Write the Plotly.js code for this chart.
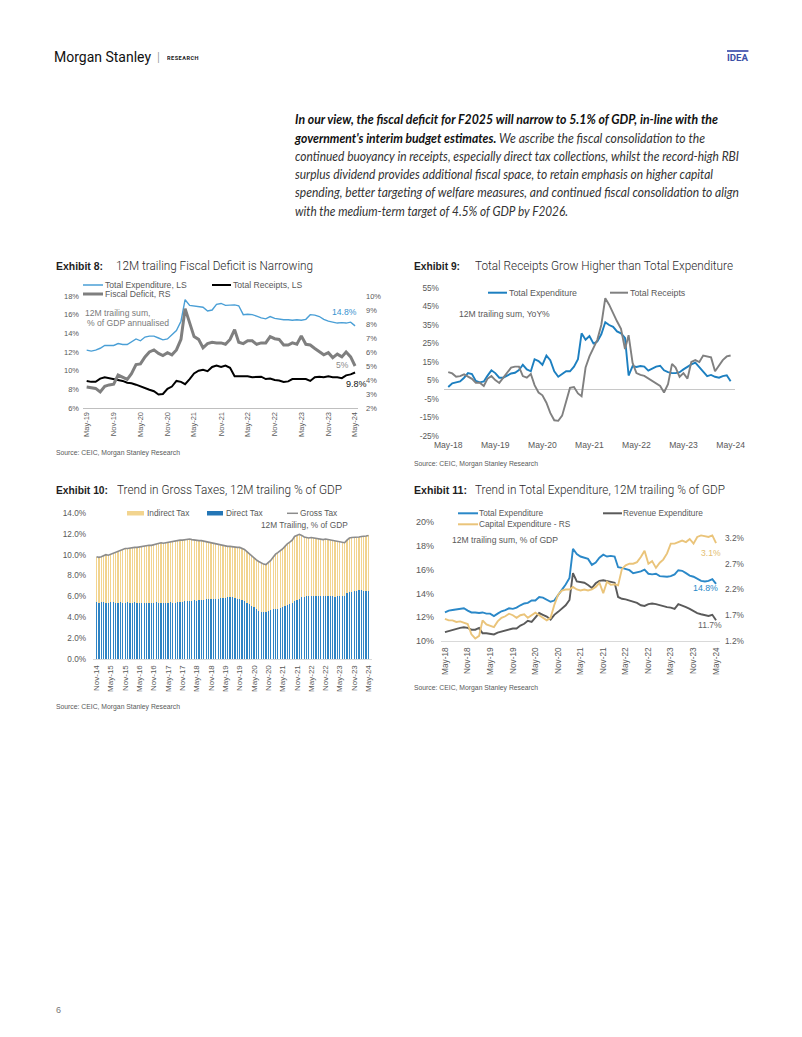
<!DOCTYPE html>
<html lang="en"><head><meta charset="utf-8"><title>Morgan Stanley Research - India fiscal charts</title>
<script src="https://cdn.plot.ly/plotly-3.0.1.min.js"></script>
<style>
html,body{margin:0;padding:0;background:#fff}
body{position:relative;width:802px;height:1037px;overflow:hidden;font-family:"Liberation Sans",Arial,sans-serif}
.a{position:absolute;white-space:nowrap;transform-origin:0 50%}
.brand{left:54px;top:47px;font-family:Roboto,sans-serif;font-size:15.5px;line-height:20px;color:#111}
.sep{left:157px;top:49px;font-family:Roboto,sans-serif;font-weight:300;font-size:13px;line-height:16px;color:#888}
.res{left:167px;top:54px;font-family:Roboto,sans-serif;font-weight:700;font-size:6px;line-height:7px;letter-spacing:.5px;color:#222}
.idea{left:727px;top:50px;font-family:Roboto,sans-serif;font-weight:700;font-size:9px;line-height:10px;color:#3d4fa6;border-top:2px solid #5b69b8;padding-top:1px}
.para{left:295px;font-family:Lato,"Open Sans",sans-serif;font-style:italic;font-size:12.5px;line-height:18px;color:#333}
.para b{color:#111;font-weight:700}
.exl{font-family:"Liberation Sans",Arial,sans-serif;font-weight:700;font-size:11px;line-height:16px;color:#1e1e1e}
.ext{font-family:Roboto,sans-serif;font-weight:300;font-size:12px;line-height:16px;color:#2b2b2b}
.src{font-family:"Liberation Sans",Arial,sans-serif;font-size:7.5px;line-height:10px;color:#595959}
.pg{left:56px;top:1004px;font-family:"Liberation Sans",Arial,sans-serif;font-size:9px;line-height:12px;color:#777}
.chart{position:absolute}
</style></head><body>

<div class="a brand" data-w="97">Morgan Stanley</div>
<div class="a sep">|</div>
<div class="a res" data-w="32">RESEARCH</div>
<div class="a idea" data-w="21">IDEA</div>

<div class="a para" style="top:111px" data-w="423"><b>In our view, the fiscal deficit for F2025 will narrow to 5.1% of GDP, in-line with the</b></div>
<div class="a para" style="top:130px" data-w="410"><b>government's interim budget estimates.</b> We ascribe the fiscal consolidation to the</div>
<div class="a para" style="top:148px" data-w="444">continued buoyancy in receipts, especially direct tax collections, whilst the record-high RBI</div>
<div class="a para" style="top:166px" data-w="418">surplus dividend provides additional fiscal space, to retain emphasis on higher capital</div>
<div class="a para" style="top:184px" data-w="444">spending, better targeting of welfare measures, and continued fiscal consolidation to align</div>
<div class="a para" style="top:203px" data-w="273">with the medium-term target of 4.5% of GDP by F2026.</div>

<div class="a exl" style="left:56px;top:258px" data-w="47">Exhibit 8:</div>
<div class="a ext" style="left:116px;top:258px" data-w="197">12M trailing Fiscal Deficit is Narrowing</div>
<div class="a exl" style="left:414px;top:258px" data-w="46">Exhibit 9:</div>
<div class="a ext" style="left:475px;top:258px" data-w="258">Total Receipts Grow Higher than Total Expenditure</div>
<div class="a exl" style="left:56px;top:482px" data-w="52">Exhibit 10:</div>
<div class="a ext" style="left:117px;top:482px" data-w="225">Trend in Gross Taxes, 12M trailing % of GDP</div>
<div class="a exl" style="left:414px;top:482px" data-w="53">Exhibit 11:</div>
<div class="a ext" style="left:475px;top:482px" data-w="250">Trend in Total Expenditure, 12M trailing % of GDP</div>

<div id="ex8" class="chart"></div>
<div id="ex9" class="chart"></div>
<div id="ex10" class="chart"></div>
<div id="ex11" class="chart"></div>

<div class="a src" style="left:56px;top:448px" data-w="124">Source: CEIC, Morgan Stanley Research</div>
<div class="a src" style="left:414px;top:459px" data-w="124">Source: CEIC, Morgan Stanley Research</div>
<div class="a src" style="left:56px;top:702px" data-w="124">Source: CEIC, Morgan Stanley Research</div>
<div class="a src" style="left:414px;top:683px" data-w="124">Source: CEIC, Morgan Stanley Research</div>

<div class="a pg">6</div>

<script>
// ---------- DATA ----------
function months(y, m, n){const o=[];for(let i=0;i<n;i++){const t=m-1+i;o.push((y+Math.floor(t/12))+'-'+String(t%12+1).padStart(2,'0')+'-01');}return o;}

// Exhibit 8: May-19 .. May-24, 12M trailing % of GDP
const ex8Months = months(2019,5,61);
const ex8Expenditure = [12.2,12.1,12.2,12.4,12.7,12.7,12.7,12.9,12.8,12.8, 13.1,13.4,13.2,13.6,13.7,13.7,13.5,13.3,13.4,13.8, 14.3,15.3,17.6,17.0,16.95,16.9,16.8,16.4,16.5,17.1, 17.2,17.0,17.05,17.05,16.95,16.0,16.05,16.0,15.85,15.65, 15.55,15.8,15.6,15.5,15.45,15.45,15.4,15.45,15.4,15.5, 16.0,15.95,15.8,15.5,15.3,15.2,15.1,15.15,15.1,15.2, 14.8];
const ex8Receipts = [8.9,8.8,8.8,9.15,9.3,9.2,9.1,9.0,8.9,8.7, 8.65,8.5,8.3,8.1,7.95,7.8,7.45,7.5,8.05,8.3, 8.9,8.8,8.55,9.1,9.7,10.0,10.1,9.95,10.4,10.55, 10.4,10.55,10.3,9.4,9.4,9.45,9.4,9.3,9.3,9.35, 9.1,9.15,9.0,8.95,8.8,8.85,9.1,9.1,9.05,9.1, 8.9,9.3,9.35,9.3,9.4,9.3,9.3,9.2,9.5,9.6, 9.8];
const ex8Deficit = [3.5,3.45,3.4,3.15,3.55,3.65,3.7,4.35,4.2,4.05, 4.45,5.1,5.15,5.65,6.0,6.15,5.9,5.75,5.95,5.8, 6.15,6.9,9.1,8.0,7.1,6.9,6.3,6.6,6.7,6.65, 6.65,6.55,6.9,7.6,6.7,6.6,6.8,6.8,6.55,6.65, 6.65,7.1,6.95,6.9,6.5,6.5,6.65,6.55,7.15,6.55, 6.5,6.25,6.0,5.8,5.95,5.6,5.85,5.65,6.0,5.65, 5.0];
const ex8TickVals = ['2019-05-01','2019-11-01','2020-05-01','2020-11-01','2021-05-01','2021-11-01','2022-05-01','2022-11-01','2023-05-01','2023-11-01','2024-05-01'];
const ex8TickText = ['May-19','Nov-19','May-20','Nov-20','May-21','Nov-21','May-22','Nov-22','May-23','Nov-23','May-24'];
const ex8LeftTicks = [6,8,10,12,14,16,18];
const ex8LeftText = ['6%','8%','10%','12%','14%','16%','18%'];
const ex8RightTicks = [2,3,4,5,6,7,8,9,10];
const ex8RightText = ['2%','3%','4%','5%','6%','7%','8%','9%','10%'];

// Exhibit 9: May-18 .. May-24, 12M trailing sum YoY %
const ex9Months = months(2018,5,73);
const ex9Expenditure = [1.5,3.5,4.0,4.5,6.5,9.0,8.5,4.8,4.0,4.5, 7.5,10.5,9.0,6.5,6.5,7.8,8.8,9.2,10.6,13.5, 11.0,10.0,16.5,15.5,13.5,18.5,16.0,10.0,7.0,8.5, 10.0,10.0,12.5,16.5,30.5,27.0,29.0,25.0,26.0,30.0, 36.5,35.0,34.0,31.5,30.5,28.0,7.7,12.8,12.3,12.8, 12.5,10.3,11.5,12.5,13.0,10.5,9.5,9.0,9.0,9.5, 11.0,12.5,13.7,14.6,12.0,9.5,7.4,8.0,7.0,6.5, 7.4,7.8,4.6];
const ex9Receipts = [9.5,8.8,7.0,7.4,8.3,7.0,5.9,3.8,3.8,2.0, 5.9,7.4,5.2,3.7,6.5,8.8,12.0,12.5,12.5,7.4, 6.5,8.5,2.5,-1.5,-3.0,-7.0,-12.5,-16.5,-16.8,-14.0, -6.5,1.0,1.5,-2.0,-3.5,12.0,18.0,23.0,27.0,35.0, 49.5,46.0,41.0,37.0,33.0,22.0,29.5,14.5,9.0,8.0, 7.5,6.0,4.5,3.5,2.0,-1.5,3.0,14.0,12.0,7.0, 9.0,6.0,15.0,16.0,15.0,18.5,18.0,17.5,10.0,13.0, 16.0,18.0,18.5];
const ex9TickVals = ['2018-05-01','2019-05-01','2020-05-01','2021-05-01','2022-05-01','2023-05-01','2024-05-01'];
const ex9TickText = ['May-18','May-19','May-20','May-21','May-22','May-23','May-24'];
const ex9YTicks = [-25,-15,-5,5,15,25,35,45,55];
const ex9YText = ['-25%','-15%','-5%','5%','15%','25%','35%','45%','55%'];

// Exhibit 10: Nov-14 .. May-24, 12M trailing % of GDP
const ex10Months = months(2014,11,115);
const ex10Direct = [5.45,5.4,5.45,5.45,5.4,5.4,5.45,5.45,5.4,5.4,5.45,5.4, 5.4,5.45,5.4,5.4,5.45,5.4,5.4,5.35,5.4,5.4,5.35,5.4, 5.4,5.45,5.4,5.4,5.35,5.4,5.4,5.45,5.4,5.4,5.45,5.5, 5.5,5.55,5.6,5.6,5.6,5.65,5.6,5.65,5.7,5.7,5.75,5.75, 5.75,5.8,5.8,5.8,5.85,5.85,5.85,5.9,5.9,5.9,5.85,5.8, 5.75,5.7,5.55,5.4,5.25,5.1,5.0,4.8,4.65,4.55,4.5,4.5, 4.6,4.7,4.75,4.75,4.8,4.9,5.0,5.1,5.2,5.3,5.4,5.55, 5.7,5.8,5.9,5.95,6.0,6.0,6.05,6.05,6.05,6.0,6.0,6.0, 6.0,6.0,6.0,6.0,5.95,6.0,6.05,6.0,6.0,6.3,6.4,6.45, 6.5,6.55,6.6,6.6,6.55,6.5,6.5];
const ex10Indirect = [4.35,4.35,4.35,4.5,4.6,4.55,4.6,4.7,4.85,4.95,5.0,5.15, 5.2,5.15,5.25,5.25,5.25,5.3,5.35,5.45,5.4,5.45,5.55,5.5, 5.55,5.55,5.7,5.75,5.75,5.75,5.8,5.8,5.9,5.9,5.9,5.9, 5.9,5.9,5.9,5.9,5.85,5.75,5.8,5.7,5.65,5.6,5.5,5.45, 5.4,5.3,5.25,5.15,5.05,5.0,5.0,4.9,4.9,4.85,4.9,4.9, 4.95,4.9,4.95,4.9,4.85,4.8,4.65,4.7,4.7,4.65,4.6,4.55, 4.65,4.75,5.0,5.3,5.4,5.45,5.55,5.7,5.85,5.9,6.0,6.2, 6.15,6.15,5.95,5.75,5.65,5.6,5.6,5.55,5.55,5.5,5.5,5.45, 5.5,5.45,5.4,5.35,5.35,5.25,5.15,5.2,5.15,5.1,5.2,5.2, 5.15,5.1,5.1,5.15,5.2,5.3,5.35];
const ex10Gross = [9.8,9.75,9.8,9.95,10.0,9.95,10.05,10.15,10.25,10.35,10.45,10.55, 10.6,10.6,10.65,10.65,10.7,10.7,10.75,10.8,10.8,10.85,10.9,10.9, 10.95,11.0,11.1,11.15,11.1,11.15,11.2,11.25,11.3,11.3,11.35,11.4, 11.4,11.45,11.5,11.5,11.45,11.4,11.4,11.35,11.35,11.3,11.25,11.2, 11.15,11.1,11.05,10.95,10.9,10.85,10.85,10.8,10.8,10.75,10.75,10.7, 10.7,10.6,10.5,10.3,10.1,9.9,9.65,9.5,9.35,9.2,9.1,9.05, 9.25,9.45,9.75,10.05,10.2,10.35,10.55,10.8,11.05,11.2,11.4,11.75, 11.85,11.95,11.85,11.7,11.65,11.6,11.65,11.6,11.6,11.5,11.5,11.45, 11.5,11.45,11.4,11.35,11.3,11.25,11.2,11.2,11.15,11.4,11.6,11.65, 11.65,11.65,11.7,11.75,11.75,11.8,11.85];
const ex10TickVals = ['2014-11-01','2015-05-01','2015-11-01','2016-05-01','2016-11-01','2017-05-01','2017-11-01','2018-05-01','2018-11-01','2019-05-01','2019-11-01','2020-05-01','2020-11-01','2021-05-01','2021-11-01','2022-05-01','2022-11-01','2023-05-01','2023-11-01','2024-05-01'];
const ex10TickText = ['Nov-14','May-15','Nov-15','May-16','Nov-16','May-17','Nov-17','May-18','Nov-18','May-19','Nov-19','May-20','Nov-20','May-21','Nov-21','May-22','Nov-22','May-23','Nov-23','May-24'];
const ex10YTicks = [0,2,4,6,8,10,12,14];
const ex10YText = ['0.0%','2.0%','4.0%','6.0%','8.0%','10.0%','12.0%','14.0%'];

// Exhibit 11: May-18 .. May-24, 12M trailing sum % of GDP
const ex11Months = months(2018,5,73);
const ex11Total = [12.4,12.55,12.6,12.65,12.75,12.75,12.55,12.4,12.4,12.35, 12.4,12.3,12.3,12.1,12.3,12.5,12.6,12.75,12.7,12.8, 13.0,13.15,13.2,13.4,13.4,13.7,13.65,13.5,13.3,13.4, 13.9,14.3,14.75,15.3,17.75,17.3,17.1,17.0,16.9,16.4, 16.6,17.0,17.25,17.1,17.15,17.1,16.2,16.15,16.05,15.95, 15.7,15.75,15.85,16.0,15.65,15.6,15.65,15.45,15.4,15.4, 15.45,15.6,15.95,15.9,15.7,15.5,15.4,15.2,15.05,15.0, 15.05,15.2,14.8];
const ex11Revenue = [10.75,10.85,10.9,11.0,11.1,11.15,11.1,10.95,10.95,11.1, 10.65,10.65,10.6,10.55,10.7,10.8,10.9,10.95,11.05,11.05, 11.3,11.45,11.7,11.6,12.0,12.35,12.2,12.05,11.8,12.2, 12.45,12.75,13.0,13.45,15.7,15.0,14.95,14.9,14.7,14.45, 14.85,15.05,15.1,15.05,14.95,14.9,13.7,13.55,13.5,13.4, 13.3,13.2,13.0,12.95,13.1,13.15,13.1,13.0,12.9,12.85, 12.8,12.7,13.1,13.0,12.85,12.7,12.5,12.35,12.25,12.15, 12.1,12.2,11.75];
const ex11Capex = [1.63,1.6,1.6,1.57,1.58,1.56,1.53,1.33,1.25,1.3, 1.6,1.52,1.5,1.47,1.58,1.65,1.68,1.73,1.7,1.65, 1.7,1.72,1.65,1.7,1.75,1.7,1.65,1.6,1.65,1.9, 2.1,2.18,2.2,2.2,2.25,2.2,2.18,2.2,2.18,2.2, 2.25,2.33,2.13,2.35,2.29,2.3,2.28,2.6,2.67,2.7, 2.7,2.73,2.83,2.95,2.7,2.75,2.62,2.72,2.78,2.9, 3.09,3.09,3.12,3.15,3.12,3.18,3.09,3.22,3.25,3.23, 3.22,3.25,3.1];
const ex11TickVals = ['2018-05-01','2018-11-01','2019-05-01','2019-11-01','2020-05-01','2020-11-01','2021-05-01','2021-11-01','2022-05-01','2022-11-01','2023-05-01','2023-11-01','2024-05-01'];
const ex11TickText = ['May-18','Nov-18','May-19','Nov-19','May-20','Nov-20','May-21','Nov-21','May-22','Nov-22','May-23','Nov-23','May-24'];
const ex11LeftTicks = [10,12,14,16,18,20];
const ex11LeftText = ['10%','12%','14%','16%','18%','20%'];
const ex11RightTicks = [1.2,1.7,2.2,2.7,3.2];
const ex11RightText = ['1.2%','1.7%','2.2%','2.7%','3.2%'];

// ---------- HELPERS ----------
const FONT = '"Liberation Sans", Arial, sans-serif';
const TC = '#595959';
const CFG = {staticPlot:true, displayModeBar:false, responsive:false};

function place(id, box){const d=document.getElementById(id);d.style.left=box.left+'px';d.style.top=box.top+'px';d.style.width=box.width+'px';d.style.height=box.height+'px';}
function rectOf(box,m){return {l:box.left+m.l,t:box.top+m.t,w:box.width-m.l-m.r,h:box.height-m.t-m.b};}
function P(r,X,Y){return [(X-r.l)/r.w,(r.t+r.h-Y)/r.h];}
function txt(r,X,Y,text,size,color,extra){const p=P(r,X,Y);return Object.assign({xref:'paper',yref:'paper',x:p[0],y:p[1],xanchor:'left',yanchor:'middle',showarrow:false,borderpad:0,text:text,font:{family:FONT,size:size,color:color}},extra||{});}
function lineS(r,X1,X2,Y,color,w){const a=P(r,X1,Y),b=P(r,X2,Y);return {type:'line',xref:'paper',yref:'paper',x0:a[0],y0:a[1],x1:b[0],y1:b[1],line:{color:color,width:w}};}
function rectS(r,X1,Y1,X2,Y2,color){const a=P(r,X1,Y1),b=P(r,X2,Y2);return {type:'rect',xref:'paper',yref:'paper',x0:a[0],y0:a[1],x1:b[0],y1:b[1],fillcolor:color,line:{width:0}};}
function baseAxis(extra){return Object.assign({showgrid:false,zeroline:false,ticks:'',showline:false,tickfont:{family:FONT,color:TC}},extra);}

// ---------- EXHIBIT 8 ----------
(function(){
  const box={left:50,top:280,width:340,height:170}, m={l:33,r:32,t:16,b:42,pad:0};
  place('ex8',box); const r=rectOf(box,m);
  const cB='#4A9FD6', cK='#000000', cG='#7F7F7F';
  Plotly.newPlot('ex8',[
    {x:ex8Months,y:ex8Expenditure,type:'scatter',mode:'lines',name:'Total Expenditure, LS',line:{color:cB,width:1.4}},
    {x:ex8Months,y:ex8Receipts,type:'scatter',mode:'lines',name:'Total Receipts, LS',line:{color:cK,width:2}},
    {x:ex8Months,y:ex8Deficit,type:'scatter',mode:'lines',name:'Fiscal Deficit, RS',yaxis:'y2',line:{color:cG,width:3}}
  ],{
    width:box.width,height:box.height,margin:m,showlegend:false,
    paper_bgcolor:'rgba(0,0,0,0)',plot_bgcolor:'rgba(0,0,0,0)',font:{family:FONT,size:7.5,color:TC},
    xaxis:baseAxis({type:'date',range:['2019-04-06','2024-05-21'],tickmode:'array',tickvals:ex8TickVals,ticktext:ex8TickText,tickangle:-90,showline:true,linecolor:'#BFBFBF',linewidth:1,tickfont:{family:FONT,size:7.5,color:TC}}),
    yaxis:baseAxis({range:[6,18],tickmode:'array',tickvals:ex8LeftTicks,ticktext:ex8LeftText,ticklabelstandoff:3,tickfont:{family:FONT,size:7.5,color:TC}}),
    yaxis2:baseAxis({overlaying:'y',side:'right',range:[2,10],tickmode:'array',tickvals:ex8RightTicks,ticktext:ex8RightText,ticklabelstandoff:7,tickfont:{family:FONT,size:7.5,color:TC}}),
    shapes:[lineS(r,83,103,285,cB,1.5),lineS(r,212,231,285,cK,2),lineS(r,83,103,294,cG,3)],
    annotations:[
      txt(r,104,285,'Total Expenditure, LS',8.6,TC),
      txt(r,232,285,'Total Receipts, LS',8.6,TC),
      txt(r,104,294,'Fiscal Deficit, RS',8.6,TC),
      txt(r,84,313,'12M trailing sum,',8.6,'#7a7a7a'),
      txt(r,86,323,'% of GDP annualised',8.6,'#7a7a7a'),
      txt(r,331,312,'14.8%',8.6,'#3A93CF'),
      txt(r,335,365,'5%',8.6,'#8c8c8c'),
      txt(r,345,384,'9.8%',9,'#111111')
    ]
  },CFG);
})();

// ---------- EXHIBIT 9 ----------
(function(){
  const box={left:400,top:270,width:360,height:190}, m={l:44,r:25,t:18,b:24,pad:0};
  place('ex9',box); const r=rectOf(box,m);
  const cB='#1C7FC0', cG='#808080';
  Plotly.newPlot('ex9',[
    {x:ex9Months,y:ex9Expenditure,type:'scatter',mode:'lines',name:'Total Expenditure',line:{color:cB,width:1.9}},
    {x:ex9Months,y:ex9Receipts,type:'scatter',mode:'lines',name:'Total Receipts',line:{color:cG,width:1.9}}
  ],{
    width:box.width,height:box.height,margin:m,showlegend:false,
    paper_bgcolor:'rgba(0,0,0,0)',plot_bgcolor:'rgba(0,0,0,0)',font:{family:FONT,size:8.5,color:TC},
    xaxis:baseAxis({type:'date',range:['2018-03-29','2024-06-04'],tickmode:'array',tickvals:ex9TickVals,ticktext:ex9TickText,tickangle:0,ticklabelstandoff:2,tickfont:{family:FONT,size:8.6,color:TC}}),
    yaxis:baseAxis({range:[-25,55],tickmode:'array',tickvals:ex9YTicks,ticktext:ex9YText,zeroline:true,zerolinecolor:'#C8C8C8',zerolinewidth:1,ticklabelstandoff:4,tickfont:{family:FONT,size:8.3,color:TC}}),
    shapes:[lineS(r,488,507,292.7,cB,2),lineS(r,610,628,292.7,cG,2)],
    annotations:[
      txt(r,508,292.7,'Total Expenditure',8.8,TC),
      txt(r,629,292.7,'Total Receipts',8.8,TC),
      txt(r,458,314,'12M trailing sum, YoY%',8.6,TC)
    ]
  },CFG);
})();

// ---------- EXHIBIT 10 ----------
(function(){
  const box={left:40,top:495,width:345,height:205}, m={l:53,r:13,t:18,b:41,pad:0};
  place('ex10',box); const r=rectOf(box,m);
  const cY='#F2D48F', cB='#2F84C4', cG='#8C8C8C';
  Plotly.newPlot('ex10',[
    {x:ex10Months,y:ex10Direct,type:'bar',name:'Direct Tax',marker:{color:cB,line:{width:0}}},
    {x:ex10Months,y:ex10Indirect,type:'bar',name:'Indirect Tax',marker:{color:cY,line:{width:0}}},
    {x:ex10Months,y:ex10Gross,type:'scatter',mode:'lines',name:'Gross Tax',line:{color:cG,width:1.6}}
  ],{
    width:box.width,height:box.height,margin:m,showlegend:false,barmode:'stack',bargap:0.42,
    paper_bgcolor:'rgba(0,0,0,0)',plot_bgcolor:'rgba(0,0,0,0)',font:{family:FONT,size:8.2,color:TC},
    xaxis:baseAxis({type:'date',range:['2014-09-17','2024-06-15'],tickmode:'array',tickvals:ex10TickVals,ticktext:ex10TickText,tickangle:-90,showline:true,linecolor:'#D9D9D9',linewidth:1,ticklabelstandoff:2,tickfont:{family:FONT,size:8,color:TC}}),
    yaxis:baseAxis({range:[0,14],tickmode:'array',tickvals:ex10YTicks,ticktext:ex10YText,ticklabelstandoff:6,tickfont:{family:FONT,size:8.2,color:TC}}),
    shapes:[rectS(r,127,511,144,515.5,cY),rectS(r,207,511,223,515.5,'#2476B6'),lineS(r,287,298,513.3,cG,1.5)],
    annotations:[
      txt(r,146,513.3,'Indirect Tax',8.3,TC),
      txt(r,225,513.3,'Direct Tax',8.3,TC),
      txt(r,299,513.3,'Gross Tax',8.3,TC),
      txt(r,260,525,'12M Trailing, % of GDP',8.3,TC)
    ]
  },CFG);
})();

// ---------- EXHIBIT 11 ----------
(function(){
  const box={left:400,top:495,width:360,height:195}, m={l:41,r:40,t:27,b:49,pad:0};
  place('ex11',box); const r=rectOf(box,m);
  const cB='#2A88C8', cG='#5A5A5A', cY='#EAC47A';
  Plotly.newPlot('ex11',[
    {x:ex11Months,y:ex11Total,type:'scatter',mode:'lines',name:'Total Expenditure',line:{color:cB,width:1.9}},
    {x:ex11Months,y:ex11Revenue,type:'scatter',mode:'lines',name:'Revenue Expenditure',line:{color:cG,width:1.9}},
    {x:ex11Months,y:ex11Capex,type:'scatter',mode:'lines',name:'Capital Expenditure - RS',yaxis:'y2',line:{color:cY,width:1.9}}
  ],{
    width:box.width,height:box.height,margin:m,showlegend:false,
    paper_bgcolor:'rgba(0,0,0,0)',plot_bgcolor:'rgba(0,0,0,0)',font:{family:FONT,size:8.5,color:TC},
    xaxis:baseAxis({type:'date',range:['2018-03-30','2024-06-02'],tickmode:'array',tickvals:ex11TickVals,ticktext:ex11TickText,tickangle:-90,showline:true,linecolor:'#D9D9D9',linewidth:1,ticklabelstandoff:2,tickfont:{family:FONT,size:8.3,color:TC}}),
    yaxis:baseAxis({range:[10,20],tickmode:'array',tickvals:ex11LeftTicks,ticktext:ex11LeftText,ticklabelstandoff:6,tickfont:{family:FONT,size:9,color:TC}}),
    yaxis2:baseAxis({overlaying:'y',side:'right',range:[1.2,3.51],tickmode:'array',tickvals:ex11RightTicks,ticktext:ex11RightText,ticklabelstandoff:4,tickfont:{family:FONT,size:8.3,color:TC}}),
    shapes:[lineS(r,458,478,513.3,cB,2),lineS(r,603,622,513.3,cG,2),lineS(r,458,478,524.3,cY,2)],
    annotations:[
      txt(r,478,513.3,'Total Expenditure',8.3,TC),
      txt(r,622,513.3,'Revenue Expenditure',8.3,TC),
      txt(r,478,524.3,'Capital Expenditure - RS',8.3,TC),
      txt(r,451,540,'12M trailing sum, % of GDP',8.6,TC),
      txt(r,700,553,'3.1%',8.6,'#E3BE72'),
      txt(r,692,588,'14.8%',8.8,'#2A88C8'),
      txt(r,697,625,'11.7%',8.6,'#666666')
    ]
  },CFG);
})();

// ---------- fit HTML text runs to measured widths ----------
function fitAll(){document.querySelectorAll('[data-w]').forEach(function(el){el.style.transform='none';var w=el.getBoundingClientRect().width;var t=parseFloat(el.getAttribute('data-w'));if(w>0){el.style.transform='scaleX('+(t/w).toFixed(4)+')';}});}
fitAll();
if(document.fonts&&document.fonts.ready){document.fonts.ready.then(fitAll);}
</script>
</body></html>
